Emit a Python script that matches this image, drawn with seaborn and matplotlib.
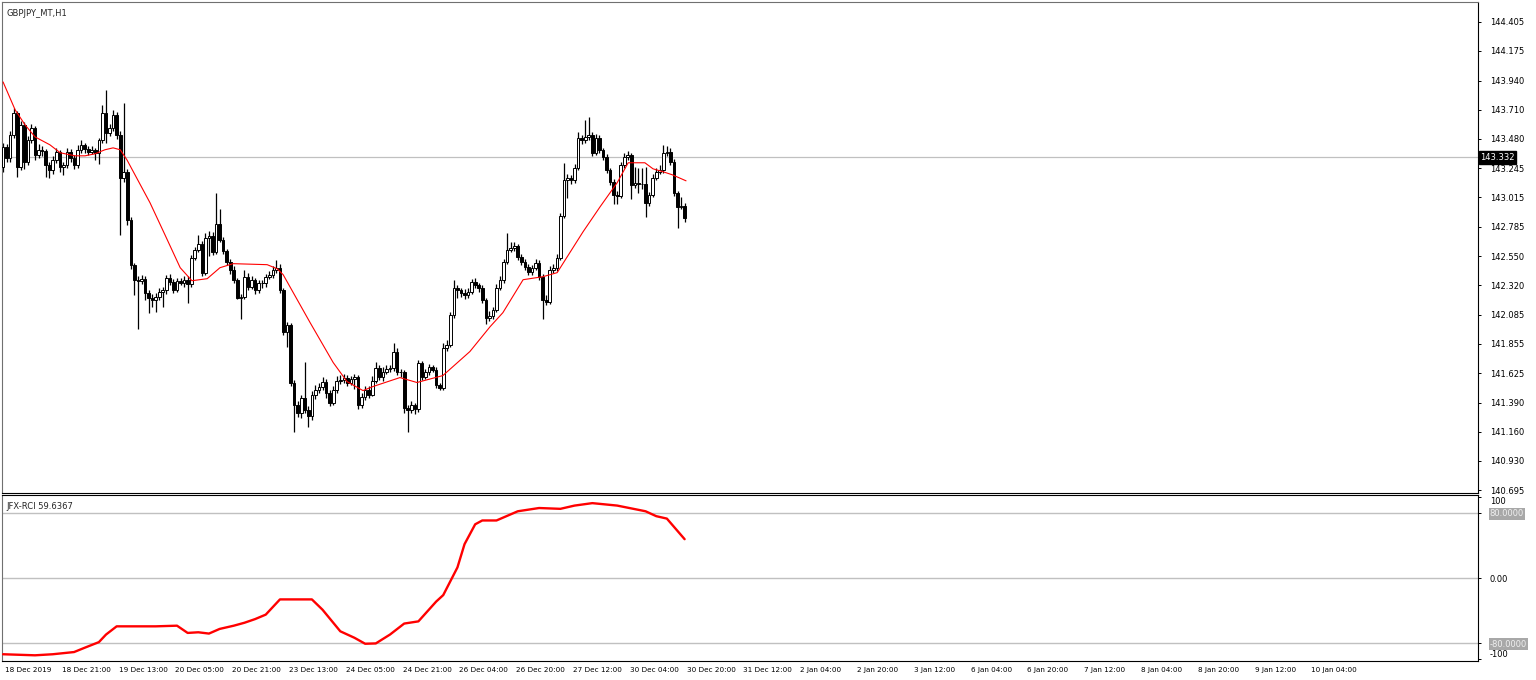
import seaborn as sns
import matplotlib.pyplot as plt
import matplotlib.transforms as mtransforms
import pandas as pd
import numpy as np

# GBPJPY H1 candles (bar index 0 = 18 Dec 2019 05:00)
opens = [
    143.258, 143.416, 143.329, 143.511, 143.685, 143.258, 143.590, 143.298, 143.472, 143.567,
    143.353, 143.393, 143.380, 143.274, 143.234, 143.313, 143.377, 143.258, 143.270, 143.377,
    143.329, 143.274, 143.393, 143.432, 143.400, 143.377, 143.393, 143.369, 143.472, 143.685,
    143.527, 143.567, 143.669, 143.511, 143.171, 143.219, 142.839, 142.483, 142.364, 142.356,
    142.372, 142.261, 142.222, 142.206, 142.225, 142.269, 142.285, 142.380, 142.348, 142.285,
    142.356, 142.341, 142.364, 142.333, 142.538, 142.602, 142.649, 142.420, 142.696, 142.712,
    142.586, 142.807, 142.681, 142.590, 142.507, 142.443, 142.364, 142.222, 142.230, 142.388,
    142.309, 142.364, 142.285, 142.341, 142.335, 142.388, 142.404, 142.443, 142.459, 142.285,
    141.953, 142.008, 141.550, 141.375, 141.312, 141.431, 141.336, 141.281, 141.455, 141.494,
    141.518, 141.557, 141.470, 141.391, 141.490, 141.565, 141.573, 141.589, 141.550, 141.575,
    141.590, 141.375, 141.439, 141.494, 141.455, 141.565, 141.668, 141.597, 141.637, 141.660,
    141.665, 141.795, 141.637, 141.630, 141.352, 141.336, 141.375, 141.340, 141.708, 141.597,
    141.637, 141.676, 141.652, 141.534, 141.510, 141.826, 141.850, 142.087, 142.301, 142.285,
    142.261, 142.246, 142.269, 142.348, 142.325, 142.301, 142.206, 142.064, 142.079, 142.127,
    142.301, 142.364, 142.507, 142.602, 142.617, 142.633, 142.546, 142.507, 142.467, 142.428,
    142.459, 142.500, 142.388, 142.206, 142.190, 142.443, 142.459, 142.538, 142.870, 143.155,
    143.171, 143.150, 143.250, 143.487, 143.472, 143.495, 143.511, 143.369, 143.490, 143.393,
    143.337, 143.234, 143.139, 143.037, 143.029, 143.274, 143.337, 143.353, 143.116, 143.132,
    143.125, 143.120, 142.973, 143.037, 143.171, 143.219, 143.234, 143.369, 143.377, 143.298,
    143.052, 142.942, 142.950,
]
highs = [
    143.45, 143.44, 143.54, 143.72, 143.70, 143.62, 143.61, 143.50, 143.60, 143.58,
    143.44, 143.42, 143.40, 143.30, 143.34, 143.41, 143.39, 143.30, 143.41, 143.40,
    143.35, 143.43, 143.47, 143.45, 143.42, 143.42, 143.41, 143.49, 143.75, 143.865,
    143.60, 143.71, 143.69, 143.54, 143.76, 143.24, 142.86, 142.50, 142.39, 142.40,
    142.39, 142.28, 142.25, 142.26, 142.30, 142.31, 142.40, 142.41, 142.37, 142.38,
    142.38, 142.39, 142.39, 142.56, 142.62, 142.72, 142.67, 142.73, 142.75, 142.74,
    143.05, 142.92, 142.70, 142.61, 142.53, 142.47, 142.38, 142.25, 142.44, 142.42,
    142.39, 142.38, 142.36, 142.36, 142.41, 142.43, 142.47, 142.52, 142.49, 142.30,
    142.03, 142.02, 141.57, 141.40, 141.45, 141.715, 141.36, 141.48, 141.53, 141.55,
    141.59, 141.58, 141.49, 141.52, 141.60, 141.61, 141.62, 141.61, 141.60, 141.62,
    141.61, 141.47, 141.52, 141.52, 141.60, 141.71, 141.69, 141.67, 141.69, 141.69,
    141.866, 141.82, 141.66, 141.65, 141.37, 141.40, 141.39, 141.73, 141.72, 141.66,
    141.70, 141.69, 141.67, 141.55, 141.86, 141.89, 142.11, 142.36, 142.32, 142.30,
    142.29, 142.30, 142.37, 142.38, 142.34, 142.32, 142.22, 142.12, 142.15, 142.33,
    142.39, 142.53, 142.736, 142.66, 142.66, 142.65, 142.57, 142.53, 142.49, 142.48,
    142.53, 142.52, 142.41, 142.24, 142.47, 142.49, 142.57, 142.89, 143.29, 143.20,
    143.19, 143.28, 143.53, 143.51, 143.63, 143.654, 143.53, 143.52, 143.51, 143.41,
    143.36, 143.25, 143.16, 143.07, 143.30, 143.37, 143.38, 143.37, 143.26, 143.25,
    143.25, 143.26, 143.06, 143.20, 143.25, 143.27, 143.43, 143.42, 143.41, 143.32,
    143.07, 143.02, 142.97,
]
lows = [
    143.22, 143.30, 143.30, 143.49, 143.18, 143.23, 143.24, 143.27, 143.45, 143.31,
    143.33, 143.34, 143.18, 143.17, 143.20, 143.29, 143.22, 143.19, 143.25, 143.30,
    143.24, 143.25, 143.37, 143.37, 143.35, 143.36, 143.31, 143.28, 143.45, 143.45,
    143.50, 143.54, 143.48, 142.72, 143.14, 142.80, 142.45, 142.24, 141.97, 142.33,
    142.20, 142.10, 142.15, 142.11, 142.20, 142.15, 142.25, 142.32, 142.26, 142.27,
    142.32, 142.31, 142.18, 142.31, 142.52, 142.58, 142.39, 142.40, 142.55, 142.56,
    142.57, 142.66, 142.57, 142.48, 142.41, 142.34, 142.21, 142.05, 142.21, 142.28,
    142.29, 142.25, 142.26, 142.30, 142.31, 142.37, 142.38, 142.42, 142.26, 141.93,
    141.83, 141.52, 141.16, 141.28, 141.27, 141.31, 141.20, 141.25, 141.42, 141.47,
    141.49, 141.43, 141.36, 141.37, 141.47, 141.54, 141.55, 141.52, 141.53, 141.50,
    141.34, 141.35, 141.41, 141.43, 141.44, 141.55, 141.57, 141.56, 141.62, 141.63,
    141.64, 141.61, 141.59, 141.31, 141.16, 141.31, 141.30, 141.32, 141.57, 141.58,
    141.61, 141.63, 141.51, 141.49, 141.49, 141.80, 141.83, 142.06, 142.22, 142.23,
    142.21, 142.22, 142.25, 142.30, 142.27, 142.18, 142.01, 142.04, 142.05, 142.11,
    142.28, 142.34, 142.49, 142.58, 142.59, 142.52, 142.48, 142.44, 142.40, 142.40,
    142.44, 142.36, 142.05, 142.16, 142.17, 142.42, 142.43, 142.52, 142.85, 143.01,
    143.12, 143.13, 143.23, 143.44, 143.45, 143.47, 143.34, 143.35, 143.37, 143.31,
    143.21, 143.11, 142.96, 142.96, 143.01, 143.25, 143.31, 143.00, 143.09, 143.05,
    143.08, 142.86, 142.95, 143.02, 143.15, 143.20, 143.21, 143.34, 143.27, 143.03,
    142.776, 142.92, 142.82,
]
closes = [
    143.416, 143.329, 143.511, 143.685, 143.258, 143.590, 143.298, 143.472, 143.567, 143.353,
    143.393, 143.380, 143.274, 143.234, 143.313, 143.377, 143.258, 143.270, 143.377, 143.329,
    143.274, 143.393, 143.432, 143.400, 143.377, 143.393, 143.369, 143.472, 143.685, 143.527,
    143.567, 143.669, 143.511, 143.171, 143.219, 142.839, 142.483, 142.364, 142.356, 142.372,
    142.261, 142.222, 142.206, 142.225, 142.269, 142.285, 142.380, 142.348, 142.285, 142.356,
    142.341, 142.364, 142.333, 142.538, 142.602, 142.649, 142.420, 142.696, 142.712, 142.586,
    142.807, 142.681, 142.590, 142.507, 142.443, 142.364, 142.222, 142.230, 142.388, 142.309,
    142.364, 142.285, 142.341, 142.335, 142.388, 142.404, 142.443, 142.459, 142.285, 141.953,
    142.008, 141.550, 141.375, 141.312, 141.431, 141.336, 141.281, 141.455, 141.494, 141.518,
    141.557, 141.470, 141.391, 141.490, 141.565, 141.573, 141.589, 141.550, 141.575, 141.590,
    141.375, 141.439, 141.494, 141.455, 141.565, 141.668, 141.597, 141.637, 141.660, 141.665,
    141.795, 141.637, 141.630, 141.352, 141.336, 141.375, 141.340, 141.708, 141.597, 141.637,
    141.676, 141.652, 141.534, 141.510, 141.826, 141.850, 142.087, 142.301, 142.285, 142.261,
    142.246, 142.269, 142.348, 142.325, 142.301, 142.206, 142.064, 142.079, 142.127, 142.301,
    142.364, 142.507, 142.602, 142.617, 142.633, 142.546, 142.507, 142.467, 142.428, 142.459,
    142.500, 142.388, 142.206, 142.190, 142.443, 142.459, 142.538, 142.870, 143.155, 143.171,
    143.150, 143.250, 143.487, 143.472, 143.495, 143.511, 143.369, 143.490, 143.393, 143.337,
    143.234, 143.139, 143.037, 143.029, 143.274, 143.337, 143.353, 143.116, 143.132, 143.125,
    143.120, 142.973, 143.037, 143.171, 143.219, 143.234, 143.369, 143.377, 143.298, 143.052,
    142.942, 142.950, 142.855,
]

# red moving average (bar index, price)
ma_bar = [0, 3.4, 6.2, 9.0, 13.2, 16.1, 20.3, 23.1, 25.9, 28.7, 31.0, 33.0, 34.9, 41.4, 45.6,
          49.9, 53.2, 57.5, 61.1, 64.8, 74.4, 77.2, 78.9, 86.5, 93.0, 96.9, 101.4, 104.2, 111.8,
          116.6, 123.9, 131.5, 137.2, 140.8, 146.5, 152.1, 156.1, 163.4, 168.2, 173.0, 176.1,
          180.8, 183.1, 185.9, 188.5, 192.4]
ma_val = [143.930, 143.709, 143.590, 143.495, 143.432, 143.369, 143.345, 143.345, 143.361, 143.393,
          143.408, 143.393, 143.313, 142.973, 142.720, 142.459, 142.356, 142.372, 142.459, 142.491,
          142.483, 142.451, 142.404, 142.024, 141.708, 141.557, 141.486, 141.518, 141.589, 141.550,
          141.605, 141.795, 141.992, 142.103, 142.364, 142.388, 142.420, 142.744, 142.942, 143.132,
          143.290, 143.290, 143.242, 143.219, 143.195, 143.147]

# JFX-RCI sub window (bar index, value)
rci_bar = [0, 9, 14, 20, 23, 27, 29, 32, 43, 49, 52, 55, 58, 61, 65, 68, 71, 74, 78, 87, 90, 95,
           99, 102, 105, 109, 113, 117, 122, 124, 128, 130, 133, 135, 139, 145, 151, 157, 161, 166,
           173, 181, 184, 187, 192]
rci_val = [-93.7, -95, -93.7, -91, -85.7, -78.8, -69.5, -59.4, -59.4, -58.6, -67.5, -66.7, -68.3,
           -62.6, -58.6, -55, -50.5, -45, -26.3, -26.3, -39, -65.5, -73.5, -80.8, -80.4, -69.5,
           -56, -53.3, -29, -21, 13, 41.6, 66, 70.7, 70.7, 82, 86, 85, 89, 92, 89, 82, 76, 73, 47.7]

price_ticks = [144.405, 144.175, 143.940, 143.710, 143.480, 143.245, 143.015, 142.785, 142.550,
               142.320, 142.085, 141.855, 141.625, 141.390, 141.160, 140.930, 140.695]
current_price = 143.332
time_labels = ["18 Dec 2019", "18 Dec 21:00", "19 Dec 13:00", "20 Dec 05:00", "20 Dec 21:00",
               "23 Dec 13:00", "24 Dec 05:00", "24 Dec 21:00", "26 Dec 04:00", "26 Dec 20:00",
               "27 Dec 12:00", "30 Dec 04:00", "30 Dec 20:00", "31 Dec 12:00", "2 Jan 04:00",
               "2 Jan 20:00", "3 Jan 12:00", "6 Jan 04:00", "6 Jan 20:00", "7 Jan 12:00",
               "8 Jan 04:00", "8 Jan 20:00", "9 Jan 12:00", "10 Jan 04:00"]
time_step = 16
rci_levels = [80, 0, -80]

sns.set_style('white')
plt.rcParams['font.family'] = ['DejaVu Sans']

W, H = 1536, 680
fig = plt.figure(figsize=(W / 100, H / 100), dpi=100)


def px_rect(x0, y0, x1, y1):
    return [x0 / W, 1 - y1 / H, (x1 - x0) / W, (y1 - y0) / H]


ax = fig.add_axes(px_rect(2, 2, 1478, 492.5))
ax2 = fig.add_axes(px_rect(2, 495, 1478, 661), sharex=ax)

df = pd.DataFrame({'open': opens, 'high': highs, 'low': lows, 'close': closes})
df['bar'] = np.arange(len(df))
up = df[df['close'] >= df['open']]
down = df[df['close'] < df['open']]

# candles
ax.axhline(current_price, color='#c0c0c0', lw=0.9, zorder=1)
ax.vlines(df['bar'], df['low'], df['high'], color='black', lw=0.9, zorder=2)
ax.bar(up['bar'], up['close'] - up['open'], bottom=up['open'], width=0.75,
       color='white', edgecolor='black', linewidth=0.7, zorder=3)
ax.bar(down['bar'], down['close'] - down['open'], bottom=down['open'], width=0.75,
       color='black', edgecolor='black', linewidth=0.7, zorder=3)
sns.lineplot(x=ma_bar, y=ma_val, ax=ax, color='#ff0000', linewidth=0.8, zorder=4)

ax.set_xlim(-0.3, 415.5)
ax.set_ylim(140.679, 144.563)
ax.yaxis.tick_right()
ax.set_yticks(price_ticks)
ax.set_yticklabels([f'{v:.3f}' for v in price_ticks])
ax.tick_params(axis='y', direction='out', length=2.5, width=0.7, pad=6, labelsize=6, colors='black')
ax.tick_params(axis='x', bottom=False, labelbottom=False)
ax.set_xlabel('')
ax.set_ylabel('')
for side in ['top', 'left']:
    ax.spines[side].set_color('#707070')
    ax.spines[side].set_linewidth(0.8)
ax.spines['right'].set_color('black')
ax.spines['right'].set_linewidth(0.8)
ax.spines['bottom'].set_color('black')
ax.spines['bottom'].set_linewidth(0.8)
ax.text(0.003, 0.985, 'GBPJPY_MT,H1', transform=ax.transAxes, fontsize=6, va='top', ha='left')

trans = mtransforms.blended_transform_factory(ax.transAxes, ax.transData)
ax.text(1.0015, current_price, f'{current_price:.3f}', transform=trans, fontsize=6,
        color='white', va='center', ha='left',
        bbox=dict(facecolor='black', edgecolor='black', boxstyle='square,pad=0.2'))

# RCI panel
for lv in rci_levels:
    ax2.axhline(lv, color='#c0c0c0', lw=1.0, zorder=1)
sns.lineplot(x=rci_bar, y=rci_val, ax=ax2, color='#ff0000', linewidth=1.7, zorder=3)
ax2.set_ylim(-102, 102)
ax2.yaxis.tick_right()
ax2.set_yticks([100, 80, 0, -80, -100])
ax2.set_yticklabels(['100', '80.0000', '0.00', '-80.0000', '-100'])
ax2.tick_params(axis='y', direction='out', length=2.5, width=0.7, pad=6, labelsize=6, colors='black')
for lbl in ax2.get_yticklabels():
    t = lbl.get_text()
    if t == '100':
        lbl.set_va('top')
    elif t == '-100':
        lbl.set_va('bottom')
    elif t in ('80.0000', '-80.0000'):
        lbl.set_color('#f0f0f0')
        lbl.set_bbox(dict(facecolor='#a8a8a8', edgecolor='none', boxstyle='square,pad=0.15'))
ax2.text(0.003, 0.96, 'JFX-RCI 59.6367', transform=ax2.transAxes, fontsize=6, va='top', ha='left')

ax2.set_xticks(np.arange(len(time_labels)) * time_step)
ax2.set_xticklabels(time_labels, ha='left')
ax2.tick_params(axis='x', direction='out', length=2.5, width=0.7, pad=1.5, labelsize=5.2, colors='black')
offset = mtransforms.ScaledTranslation(2 / 100, 0, fig.dpi_scale_trans)
for lbl in ax2.get_xticklabels():
    lbl.set_transform(lbl.get_transform() + offset)
ax2.set_xlabel('')
ax2.set_ylabel('')
for side in ['top', 'right', 'bottom']:
    ax2.spines[side].set_color('black')
    ax2.spines[side].set_linewidth(0.8)
ax2.spines['left'].set_color('#707070')
ax2.spines['left'].set_linewidth(0.8)

fig.savefig('out.png', dpi=100, facecolor='white')
